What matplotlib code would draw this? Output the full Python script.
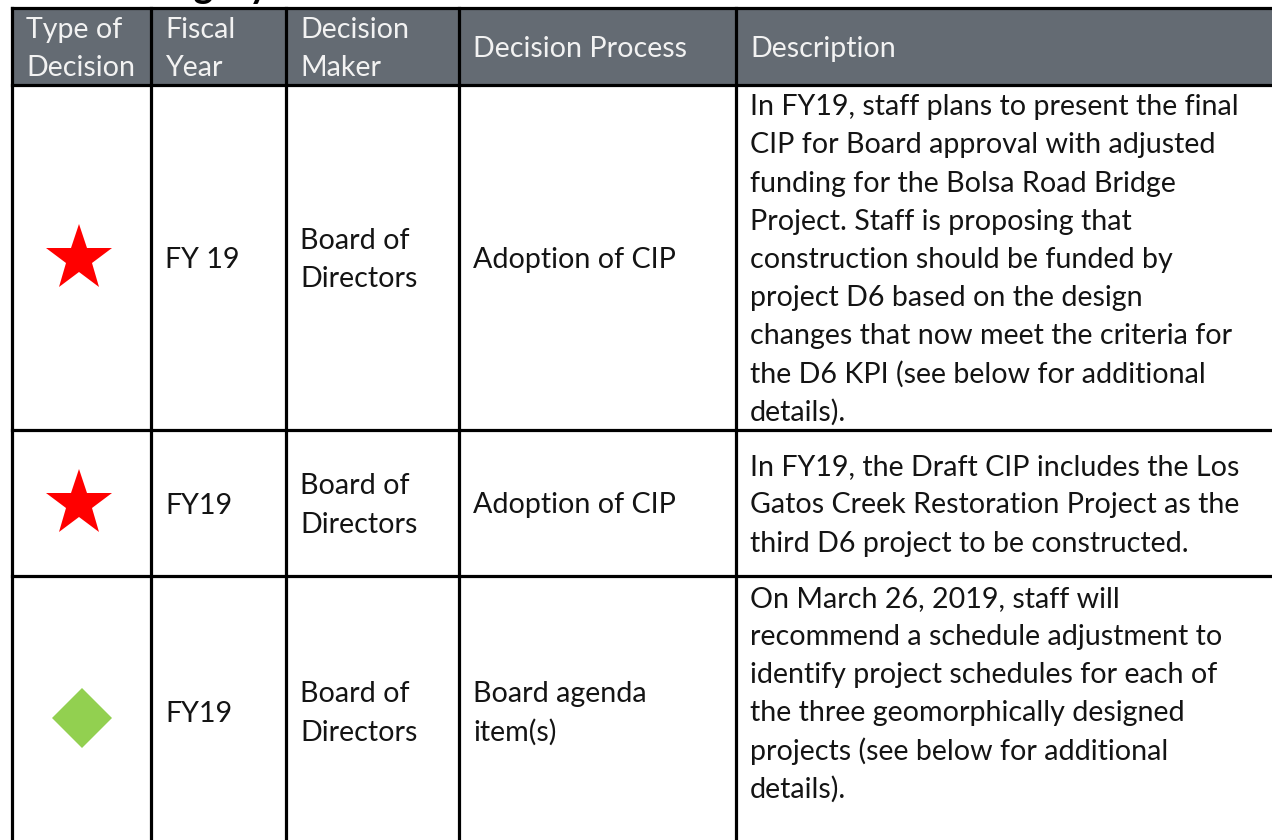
import matplotlib
matplotlib.use("Agg")
import matplotlib.pyplot as plt

# ---- data ----
headers = ["Type of\nDecision", "Fiscal\nYear", "Decision\nMaker", "Decision Process", "Description"]
decision_types = ["star", "star", "diamond"]
fiscal_years = ["FY 19", "FY19", "FY19"]
decision_makers = ["Board of\nDirectors", "Board of\nDirectors", "Board of\nDirectors"]
decision_processes = ["Adoption of CIP", "Adoption of CIP", "Board agenda\nitem(s)"]
descriptions = [
    "In FY19, staff plans to present the final\nCIP for Board approval with adjusted\n"
    "funding for the Bolsa Road Bridge\nProject. Staff is proposing that\n"
    "construction should be funded by\nproject D6 based on the design\n"
    "changes that now meet the criteria for\nthe D6 KPI (see below for additional\ndetails).",
    "In FY19, the Draft CIP includes the Los\nGatos Creek Restoration Project as the\n"
    "third D6 project to be constructed.",
    "On March 26, 2019, staff will\nrecommend a schedule adjustment to\n"
    "identify project schedules for each of\nthe three geomorphically designed\n"
    "projects (see below for additional\ndetails).\n",
]

# ---- layout (pixels) ----
W, H = 1272, 840
col_edges = [12, 151, 286, 459, 736, 1290]
row_edges = [8, 85, 430, 576, 846]
pad_x = 14
line_h = 38.2
cap_half = 10.5
FONT = "Lato"
fs = 20.6
header_bg = "#646b73"
header_fg = "#f2f2f2"
body_fg = "#141414"

fig = plt.figure(figsize=(W / 100, H / 100), dpi=100)
ax = fig.add_axes([0, 0, 1, 1])
ax.set_xlim(0, W)
ax.set_ylim(H, 0)
ax.axis("off")

# header background
ax.fill_between([col_edges[0], col_edges[-1]], row_edges[0], row_edges[1],
                color=header_bg, lw=0, zorder=0)

# partial title above table (cut off at the top edge, as in the reference)
ax.text(116, -2, "Category", fontsize=27, fontweight="bold", family=FONT,
        color="black", va="baseline", ha="left")


def draw_cell(text, ci, y_center, color, size=fs):
    lines = text.split("\n")
    n = len(lines)
    first = y_center - (n - 1) * line_h / 2
    for i, ln in enumerate(lines):
        ax.text(col_edges[ci] + pad_x, first + i * line_h + cap_half, ln,
                fontsize=size, family=FONT, color=color,
                va="baseline", ha="left")


hc = (row_edges[0] + row_edges[1]) / 2
for ci, h in enumerate(headers):
    draw_cell(h, ci, hc, header_fg)

for ri in range(3):
    yc = (row_edges[ri + 1] + row_edges[ri + 2]) / 2
    xc = (col_edges[0] + col_edges[1]) / 2
    if decision_types[ri] == "star":
        ax.plot([xc - 2.5], [yc + 1], marker="*", markersize=50, color="#ff0000",
                markeredgewidth=0, linestyle="none")
    else:
        ax.plot([xc], [yc + 7], marker="D", markersize=31, color="#92d050",
                markeredgewidth=0, linestyle="none")
    draw_cell(fiscal_years[ri], 1, yc, body_fg)
    draw_cell(decision_makers[ri], 2, yc, body_fg)
    draw_cell(decision_processes[ri], 3, yc, body_fg)
    draw_cell(descriptions[ri], 4, yc, body_fg)

# grid lines
lw = 2.3
for x in col_edges:
    ax.plot([x, x], [row_edges[0], row_edges[-1]], color="black", lw=lw,
            solid_capstyle="projecting")
for y in row_edges:
    ax.plot([col_edges[0], col_edges[-1]], [y, y], color="black", lw=lw,
            solid_capstyle="projecting")

fig.savefig("out.png", dpi=100)
